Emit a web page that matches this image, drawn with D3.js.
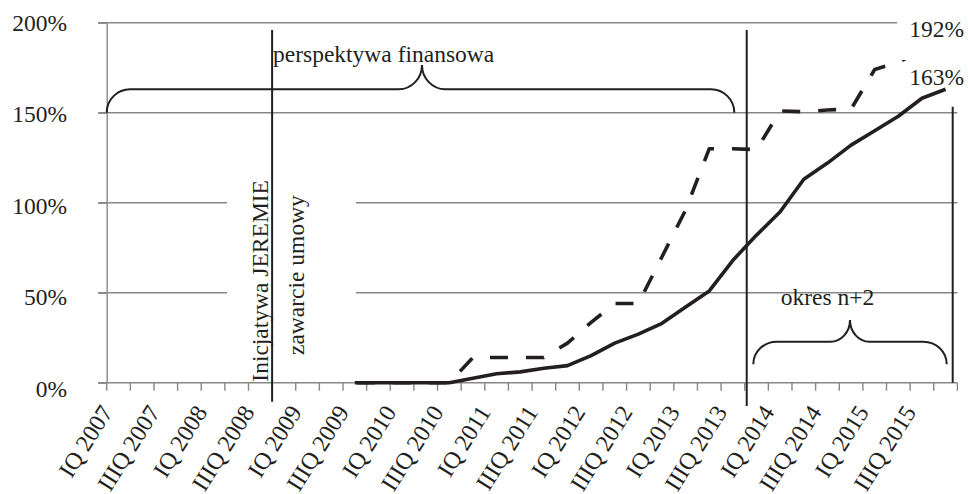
<!DOCTYPE html>
<html><head><meta charset="utf-8">
<script src="https://cdn.jsdelivr.net/npm/d3@7"></script>
<style>html,body{margin:0;padding:0;background:#fff;} svg{display:block;}</style>
</head><body>
<svg id="chart" width="968" height="494"></svg>
<script>
// ---------------- data ----------------
const categories = [
  "IQ 2007","IIQ 2007","IIIQ 2007","IVQ 2007",
  "IQ 2008","IIQ 2008","IIIQ 2008","IVQ 2008",
  "IQ 2009","IIQ 2009","IIIQ 2009","IVQ 2009",
  "IQ 2010","IIQ 2010","IIIQ 2010","IVQ 2010",
  "IQ 2011","IIQ 2011","IIIQ 2011","IVQ 2011",
  "IQ 2012","IIQ 2012","IIIQ 2012","IVQ 2012",
  "IQ 2013","IIQ 2013","IIIQ 2013","IVQ 2013",
  "IQ 2014","IIQ 2014","IIIQ 2014","IVQ 2014",
  "IQ 2015","IIQ 2015","IIIQ 2015","IVQ 2015"
];
const tickLabels = [
  "IQ 2007","IIIQ 2007","IQ 2008","IIIQ 2008","IQ 2009","IIIQ 2009",
  "IQ 2010","IIIQ 2010","IQ 2011","IIIQ 2011","IQ 2012","IIIQ 2012",
  "IQ 2013","IIIQ 2013","IQ 2014","IIIQ 2014","IQ 2015","IIIQ 2015"
];
const solidValues = [
  null,null,null,null,null,null,null,null,null,null,
  0,0,0,0,0,2.5,5,6,8,9.5,15,22,27,33,42,51,68,82,95,113,122,132,140,148,158,163
];
const dashedValues = [
  null,null,null,null,null,null,null,null,null,null,
  0,0,0,0,0,14,14,14,14,22,33.5,44,44,70,96,130,130,129.5,151,150.5,151.5,152,174,178,185,192
];
const yTicks = [0,50,100,150,200];
const yTickLabels = ["0%","50%","100%","150%","200%"];
const endLabels = ["192%","163%"];
const textPerspektywa = "perspektywa finansowa";
const textInicjatywa = "Inicjatywa JEREMIE";
const textZawarcie = "zawarcie umowy";
const textOkres = "okres n+2";

// ---------------- layout ----------------
const L = 106.7, R = 957.4, T = 22.7, B = 382.7;
const FONT = "'Liberation Serif','Times New Roman',serif";
const INK = "#231f20", GRID = "#878787";

const svg = d3.select("#chart");
const x = d3.scaleBand().domain(categories).range([L, R]).padding(0);
const bw = x.bandwidth();
const cx = c => x(c) + bw / 2;
const edge = i => L + i * bw;
const y = d3.scaleLinear().domain([0, 200]).range([B, T]);
const labelY = d3.scaleLinear().domain([0, 200]).range([396.5, 31]);

// gridlines
svg.append("g").selectAll("line").data(yTicks.filter(v => v > 0)).join("line")
  .attr("x1", L - 8.5).attr("x2", R).attr("y1", d => y(d)).attr("y2", d => y(d))
  .attr("stroke", GRID).attr("stroke-width", 1.4);

// y axis
const yAxis = svg.append("g").attr("transform", `translate(${L},0)`)
  .call(d3.axisLeft(y).tickValues(yTicks).tickSize(8.5).tickSizeOuter(0).tickFormat(""));
yAxis.selectAll("path,line").attr("stroke", GRID).attr("stroke-width", 1.4);

// x axis line and ticks at band edges
svg.append("line").attr("x1", L - 8.5).attr("x2", R).attr("y1", B).attr("y2", B)
  .attr("stroke", GRID).attr("stroke-width", 1.4);
svg.append("g").selectAll("line").data(d3.range(categories.length + 1)).join("line")
  .attr("x1", d => edge(d)).attr("x2", d => edge(d)).attr("y1", B).attr("y2", B + 8)
  .attr("stroke", GRID).attr("stroke-width", 1.4);

// y labels
svg.append("g").selectAll("text").data(yTicks).join("text")
  .attr("x", 67).attr("y", d => labelY(d)).attr("text-anchor", "end")
  .attr("font-family", FONT).attr("font-size", 23.5).attr("fill", INK)
  .text((d, i) => yTickLabels[i]);

// x labels
svg.append("g").selectAll("text").data(tickLabels).join("text")
  .attr("transform", d => `translate(${cx(d) - 5},412) rotate(-58)`)
  .attr("text-anchor", "end")
  .attr("font-family", FONT).attr("font-size", 24).attr("fill", INK)
  .text(d => d);

// white text box behind vertical texts
svg.append("rect").attr("x", 227).attr("y", 125).attr("width", 129).attr("height", 250)
  .attr("fill", "#fff");

// series
const line = d3.line().defined(d => d.v != null).x(d => cx(d.c)).y(d => y(d.v));
const dashedData = categories.map((c, i) => ({c, v: dashedValues[i]}));
const solidData = categories.map((c, i) => ({c, v: solidValues[i]}));

// dash phase: first visible dash starts partway along the first rising segment
const p10 = [cx(categories[10]), y(0)], p14 = [cx(categories[14]), y(0)], p15 = [cx(categories[15]), y(dashedValues[15])];
const L0 = (p14[0] - p10[0]) + 0.45 * Math.hypot(p15[0] - p14[0], p15[1] - p14[1]);

svg.append("path").datum(dashedData).attr("d", line)
  .attr("fill", "none").attr("stroke", INK).attr("stroke-width", 3.6)
  .attr("stroke-dasharray", "18,18").attr("stroke-dashoffset", -L0)
  .attr("stroke-linejoin", "round");
svg.append("path").datum(solidData).attr("d", line)
  .attr("fill", "none").attr("stroke", INK).attr("stroke-width", 3.6)
  .attr("stroke-linejoin", "round");

// white box behind 192% label
svg.append("rect").attr("x", 897).attr("y", 10).attr("width", 71).attr("height", 50).attr("fill", "#fff");

// vertical marker lines
const vlines = [
  {x: edge(7), y1: 30, y2: 401.7},
  {x: edge(27) + 2, y1: 30, y2: 406},
  {x: edge(36) - 4.7, y1: 106.7, y2: B}
];
svg.append("g").selectAll("line").data(vlines).join("line")
  .attr("x1", d => d.x).attr("x2", d => d.x).attr("y1", d => d.y1).attr("y2", d => d.y2)
  .attr("stroke", INK).attr("stroke-width", 2);

// braces
function brace(x0, x1, mid, yEnd, yTop, yTip, rx, cr) {
  const ry = yEnd - yTop, ch = yTop - yTip;
  return `M${x0},${yEnd} A${rx},${ry} 0 0 1 ${x0 + rx},${yTop} H${mid - cr} ` +
         `A${cr},${ch} 0 0 0 ${mid},${yTip} A${cr},${ch} 0 0 0 ${mid + cr},${yTop} ` +
         `H${x1 - rx} A${rx},${ry} 0 0 1 ${x1},${yEnd}`;
}
svg.append("path").attr("d", brace(L, edge(27) - 10.4, 422, y(150), 89.3, 65, 23.4, 23.3))
  .attr("fill", "none").attr("stroke", INK).attr("stroke-width", 2);
svg.append("path").attr("d", brace(753.3, 946.7, 850, 364.3, 341.7, 320, 23.4, 19.5))
  .attr("fill", "none").attr("stroke", INK).attr("stroke-width", 2);

// annotation texts
const txt = (s, xx, yy, anchor, rot) => svg.append("text")
  .attr("transform", `translate(${xx},${yy})` + (rot ? ` rotate(${rot})` : ""))
  .attr("text-anchor", anchor).attr("font-family", FONT).attr("font-size", 23.5)
  .attr("fill", INK).text(s);
txt(textPerspektywa, 273, 61.5, "start");
txt(textInicjatywa, 268, 381.7, "start", -90);
txt(textZawarcie, 304, 355, "start", -90);
txt(textOkres, 780.7, 305, "start");
txt(endLabels[0], 964, 36.7, "end");
txt(endLabels[1], 964, 85, "end");
</script>
</body></html>
